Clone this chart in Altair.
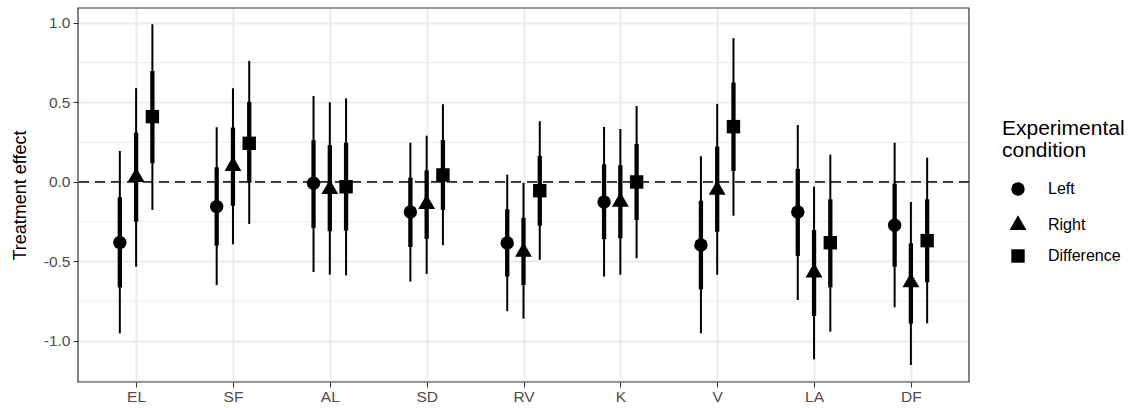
import altair as alt
import pandas as pd

categories = ["EL", "SF", "AL", "SD", "RV", "K", "V", "LA", "DF"]
conditions = ["Left", "Right", "Difference"]

est_left = [-0.380, -0.155, -0.008, -0.189, -0.384, -0.126, -0.396, -0.189, -0.272]
lo50_left = [-0.663, -0.400, -0.289, -0.409, -0.595, -0.360, -0.675, -0.465, -0.533]
hi50_left = [-0.096, 0.092, 0.262, 0.027, -0.172, 0.111, -0.118, 0.082, -0.011]
lo95_left = [-0.952, -0.648, -0.566, -0.627, -0.813, -0.595, -0.952, -0.742, -0.788]
hi95_left = [0.195, 0.344, 0.541, 0.247, 0.046, 0.346, 0.162, 0.358, 0.247]

est_right = [0.030, 0.100, -0.045, -0.140, -0.440, -0.125, -0.050, -0.570, -0.632]
lo50_right = [-0.250, -0.149, -0.310, -0.358, -0.648, -0.354, -0.313, -0.843, -0.891]
hi50_right = [0.310, 0.342, 0.231, 0.073, -0.226, 0.105, 0.222, -0.302, -0.386]
lo95_right = [-0.533, -0.392, -0.583, -0.579, -0.860, -0.583, -0.583, -1.115, -1.151]
hi95_right = [0.590, 0.589, 0.501, 0.291, -0.006, 0.333, 0.491, -0.030, -0.126]

est_diff = [0.411, 0.243, -0.030, 0.044, -0.055, 0.000, 0.348, -0.382, -0.369]
lo50_diff = [0.118, -0.004, -0.306, -0.176, -0.275, -0.239, 0.069, -0.663, -0.631]
hi50_diff = [0.698, 0.503, 0.247, 0.264, 0.164, 0.239, 0.625, -0.109, -0.109]
lo95_diff = [-0.176, -0.264, -0.587, -0.398, -0.490, -0.480, -0.212, -0.941, -0.889]
hi95_diff = [0.992, 0.761, 0.526, 0.489, 0.382, 0.478, 0.904, 0.172, 0.153]

y_major = [-1.0, -0.5, 0.0, 0.5, 1.0]
y_minor = [-1.25, -0.75, -0.25, 0.25, 0.75]
zero_line = [0.0]

dodge = 0.168
series = {
    "Left": (est_left, lo50_left, hi50_left, lo95_left, hi95_left),
    "Right": (est_right, lo50_right, hi50_right, lo95_right, hi95_right),
    "Difference": (est_diff, lo50_diff, hi50_diff, lo95_diff, hi95_diff),
}
rows = []
for ci, cond in enumerate(conditions):
    e, l5, h5, l9, h9 = series[cond]
    for i, cat in enumerate(categories):
        rows.append({
            "cat": cat, "cond": cond,
            "pos": i + 1 + (ci - 1) * dodge,
            "est": e[i], "lo50": l5[i], "hi50": h5[i], "lo95": l9[i], "hi95": h9[i],
        })
df = pd.DataFrame(rows)

FONT = "Liberation Sans"
label_expr = "[" + ",".join("'" + c + "'" for c in categories) + "][datum.value - 1]"

W, H = 891, 374
xscale = alt.Scale(domain=[0.4, len(categories) + 0.6], nice=False, zero=False)
yscale = alt.Scale(domain=[-1.258, 1.094], nice=False, zero=False)

x_enc = alt.X("pos:Q", scale=xscale, axis=alt.Axis(
    values=list(range(1, len(categories) + 1)), labelExpr=label_expr, title=None,
    grid=True, gridColor="#EBEBEB", gridWidth=2, domain=False,
    ticks=True, tickColor="#333333", tickSize=5, tickWidth=1,
    labelFont=FONT, labelFontSize=15.5, labelColor="#4D4D4D", labelPadding=2))
y_axis = alt.Axis(
    values=y_major, labelExpr="datum.value < 0 ? '-' + format(-datum.value, '.1f') : format(datum.value, '.1f')",
    title="Treatment effect", titleFont=FONT, titleFontSize=18, titleFontWeight="normal",
    titleColor="#000000", titlePadding=14,
    grid=True, gridColor="#EBEBEB", gridWidth=2, domain=False,
    ticks=True, tickColor="#333333", tickSize=5, tickWidth=1,
    labelFont=FONT, labelFontSize=15.5, labelColor="#4D4D4D", labelPadding=3)

TRIANGLE = "M0,-1.45L-1.26,0.73L1.26,0.73Z"

base = alt.Chart(df)

minor = alt.Chart(pd.DataFrame({"v": y_minor})).mark_rule(color="#EBEBEB", strokeWidth=1).encode(
    y=alt.Y("v:Q", scale=yscale, axis=y_axis))

zero = alt.Chart(pd.DataFrame({"v": zero_line})).mark_rule(
    color="#262626", strokeWidth=1.8, strokeDash=[10, 6]).encode(y=alt.Y("v:Q", scale=yscale))

thin = base.mark_rule(color="black", strokeWidth=2).encode(
    x=x_enc, y=alt.Y("lo95:Q", scale=yscale), y2="hi95:Q")
thick = base.mark_rule(color="black", strokeWidth=4.3).encode(
    x=alt.X("pos:Q", scale=xscale), y=alt.Y("lo50:Q", scale=yscale), y2="hi50:Q")
pts = base.mark_point(filled=True, color="black", opacity=1, size=180).encode(
    x=alt.X("pos:Q", scale=xscale),
    y=alt.Y("est:Q", scale=yscale),
    shape=alt.Shape("cond:N", scale=alt.Scale(domain=conditions, range=["circle", TRIANGLE, "square"]),
                    legend=alt.Legend(title=["Experimental", "condition"], orient="none",
                                      legendX=924, legendY=110)),
)

frame = alt.Chart(pd.DataFrame({"v": zero_line})).mark_rect(
    fill=None, fillOpacity=0, stroke="#333333", strokeWidth=1.2).encode(
    x=alt.value(0), x2=alt.value(W), y=alt.value(0), y2=alt.value(H))

chart = alt.layer(minor, zero, thin, thick, pts, frame).properties(
    width=W, height=H,
    background="white",
    autosize=alt.AutoSizeParams(type="none"),
    padding={"left": 78, "top": 8, "right": 166, "bottom": 26},
).configure_view(stroke=None).configure_legend(
    titleFont=FONT, titleFontSize=21, titleFontWeight="normal", titleColor="#000000",
    titleLineHeight=22, titlePadding=20,
    labelFont=FONT, labelFontSize=16, labelColor="#000000",
    symbolSize=180, symbolFillColor="black", symbolStrokeColor="black",
    symbolOffset=8, labelOffset=22, rowPadding=13,
)

chart.save("out.html", embed_options={"renderer": "svg", "actions": False})
